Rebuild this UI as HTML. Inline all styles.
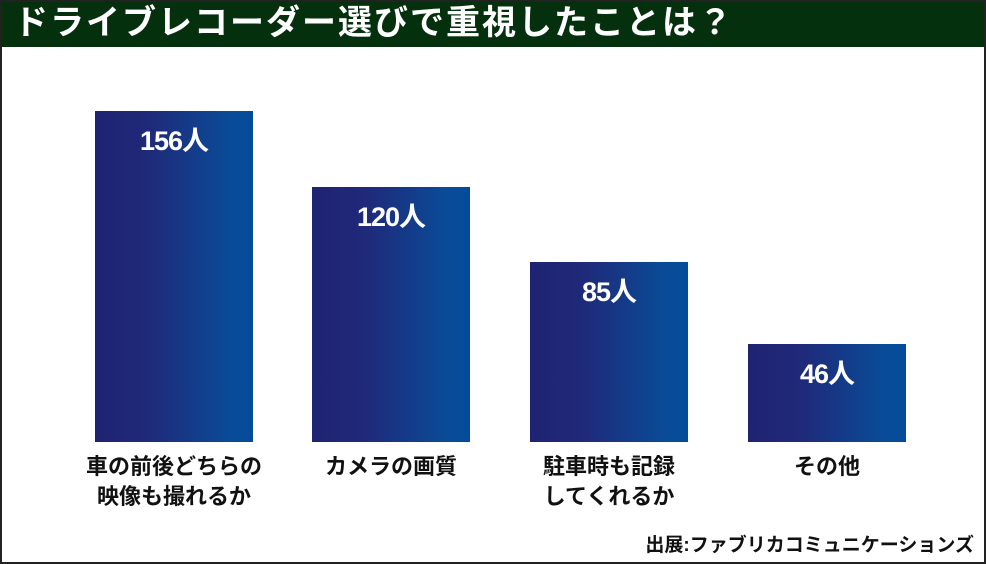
<!DOCTYPE html>
<html><head><meta charset="utf-8"><style>
*{margin:0;padding:0;box-sizing:border-box}
body{width:986px;height:564px;background:#fff;position:relative;overflow:hidden;font-family:"Liberation Sans","Noto Sans CJK JP",sans-serif;font-weight:bold}
#frame{position:absolute;left:0;top:0;width:986px;height:564px;border:2px solid #222;}
#title{position:absolute;left:0;top:0;width:986px;height:47px;background:#05300e;color:#fff;font-size:34px;line-height:47px;padding-left:14px;letter-spacing:2px;white-space:nowrap}
.bar{position:absolute;width:158px;bottom:122px;background:linear-gradient(to right,#1f2371 0%,#1f2a7a 35%,#0a4b97 85%,#034c9b 100%);color:#fff;text-align:center;font-size:27px;padding-top:8px;letter-spacing:-1px}
.lab{position:absolute;width:240px;text-align:center;font-size:22px;line-height:30px;color:#111;top:452px}
#src{position:absolute;right:12px;top:530px;font-size:19px;color:#111}
</style></head><body>
<div id="title">ドライブレコーダー選びで重視したことは？</div>
<div id="frame"></div>
<div class="bar" style="left:95px;top:111px">156人</div>
<div class="bar" style="left:312px;top:187px">120人</div>
<div class="bar" style="left:530px;top:262px">85人</div>
<div class="bar" style="left:748px;top:344px">46人</div>
<div class="lab" style="left:54px">車の前後どちらの<br>映像も撮れるか</div>
<div class="lab" style="left:271px">カメラの画質</div>
<div class="lab" style="left:489px">駐車時も記録<br>してくれるか</div>
<div class="lab" style="left:707px">その他</div>
<div id="src">出展:ファブリカコミュニケーションズ</div>
</body></html>
